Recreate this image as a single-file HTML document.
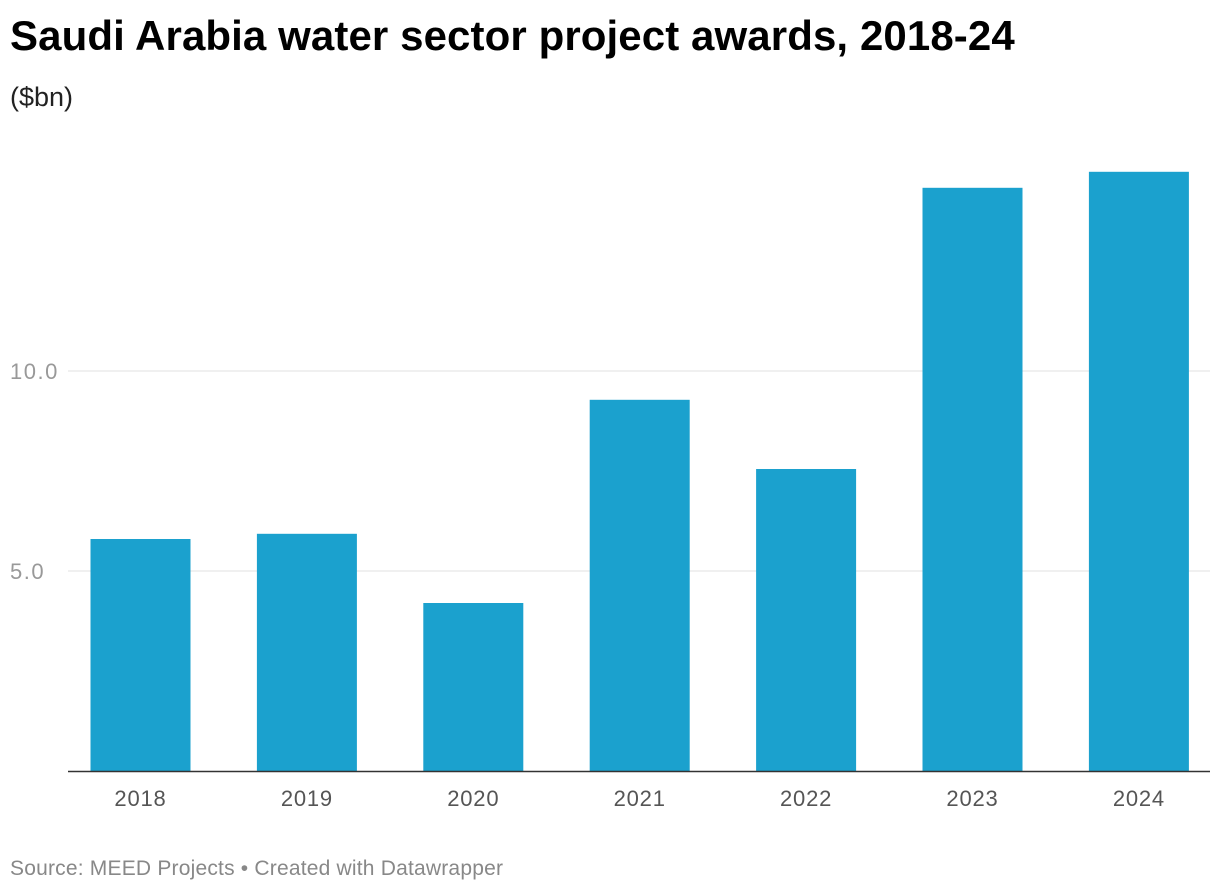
<!DOCTYPE html>
<html><head><meta charset="utf-8"><style>
body{margin:0;background:#fff;font-family:"Liberation Sans",Arial,sans-serif;}
#wrap{position:relative;width:1220px;height:894px;overflow:hidden;}
h1{position:absolute;left:10px;top:12px;margin:0;font-size:42px;font-weight:bold;color:#000;letter-spacing:0.1px;}
.sub{position:absolute;left:10px;top:82px;font-size:27px;color:#222;}
.src{position:absolute;left:10px;top:857px;font-size:21px;color:#888;letter-spacing:0.2px;}
</style></head><body>
<div id="wrap">
<h1>Saudi Arabia water sector project awards, 2018-24</h1>
<div class="sub">($bn)</div>
<svg id="chart" width="1220" height="894" style="position:absolute;left:0;top:0"></svg>
<div class="src">Source: MEED Projects • Created with Datawrapper</div>
</div>
<script>
const categories=["2018","2019","2020","2021","2022","2023","2024"];
const values=[5.8,5.93,4.2,9.28,7.55,14.58,14.98];
const yTicks=[5,10];
const yTickLabels=["5.0","10.0"];
const svg=document.getElementById('chart');
const NS='http://www.w3.org/2000/svg';
const baseY=771, pxPerUnit=40, x0=57.3, band=166.4, barW=100;
const y=v=>baseY-v*pxPerUnit;
const xc=i=>x0+band*(i+0.5);
function mk(t,a){const e=document.createElementNS(NS,t);for(const k in a)e.setAttribute(k,a[k]);svg.appendChild(e);return e;}
yTicks.forEach((t,i)=>{
 const g=mk('line',{x1:68,x2:1210,y1:y(t),y2:y(t),stroke:'#e0e0e0','stroke-width':1});
 
 
 const l=mk('text',{x:10,y:y(t)+8,'font-size':22,fill:'#999','letter-spacing':1.5,'font-family':'Liberation Sans, sans-serif'});
 l.textContent=yTickLabels[i];
 
 
});
categories.forEach((c,i)=>{
 const r=mk('rect',{x:xc(i)-barW/2,y:y(values[i]),width:barW,height:values[i]*pxPerUnit,fill:'#1ba1ce'});
 
 
 const t=mk('text',{x:xc(i),y:806,'text-anchor':'middle','font-size':22,fill:'#555','letter-spacing':0.8,'font-family':'Liberation Sans, sans-serif'});
 t.textContent=c;
 
 
});
const ax=mk('line',{x1:68,x2:1210,y1:baseY+0.5,y2:baseY+0.5,stroke:'#333','stroke-width':1.5});


</script>
</body></html>
